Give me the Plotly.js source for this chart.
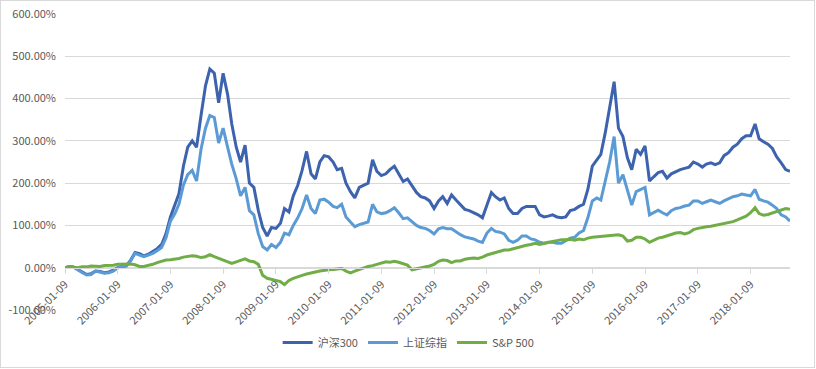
<!DOCTYPE html>
<html><head><meta charset="utf-8">
<script src="https://cdn.plot.ly/plotly-3.0.1.min.js"></script>
<style>
html,body{margin:0;padding:0;background:#fff;}
#chart{position:absolute;left:0;top:0;width:816px;height:369px;}
#frame{position:absolute;left:0;top:0;width:813px;height:366px;border:1px solid #d9d9d9;pointer-events:none;}
</style>
</head><body>
<div id="chart"></div><div id="frame"></div>
<script>
// monthly observations, 2005-01-09 .. 2018-10-09
const startYear = 2005, endYear = 2018, endMonth = 10;
const dates = [];
for (let y = startYear; y <= endYear; y++) {
  for (let m = 1; m <= 12; m++) {
    if (y === endYear && m > endMonth) break;
    dates.push(y + '-' + String(m).padStart(2, '0') + '-09');
  }
}
const seriesNames = ['沪深300', '上证综指', 'S&P 500'];
const hs300 = [
  0,3,2,-5,-10,-16,-14,-8,-9,-12,-10,-6,
  0,3,5,18,36,33,28,32,38,45,55,80,
  120,150,175,240,285,300,285,360,430,470,460,390,
  460,410,340,285,250,290,200,190,135,95,75,95,
  93,105,140,132,170,195,230,275,222,210,250,265,
  262,250,232,235,200,180,165,190,195,200,255,228,
  218,222,232,240,222,204,210,195,178,168,165,158,
  140,158,168,152,172,160,150,138,135,130,125,118,
  148,178,168,160,165,140,128,128,140,145,145,145,
  125,120,122,125,120,118,120,135,138,145,150,185,
  240,255,268,320,375,440,330,310,260,232,280,268,
  288,205,215,225,228,212,222,228,232,235,238,250,
  245,238,245,248,244,248,265,272,285,292,305,312,
  312,340,305,298,292,282,262,248,232,228
];
const szzs = [
  0,3,1,-6,-12,-17,-16,-8,-10,-13,-12,-8,
  0,2,4,16,34,30,26,30,34,40,48,70,
  110,128,150,195,220,230,205,280,330,360,355,295,
  330,285,245,210,170,190,135,125,80,50,42,55,
  48,60,82,78,100,118,140,172,140,128,160,162,
  155,145,142,150,120,108,97,102,106,108,150,132,
  128,130,135,142,130,116,118,110,100,95,93,88,
  80,92,95,92,92,85,78,73,70,68,63,60,
  82,93,86,84,80,65,60,65,75,75,68,66,
  60,58,60,60,58,58,64,70,72,82,88,118,
  158,165,160,210,250,310,200,220,180,148,180,185,
  190,125,130,136,130,125,135,140,142,146,148,158,
  158,152,156,160,156,152,158,164,168,170,174,172,
  170,185,162,158,155,148,140,125,120,110
];
const sp500 = [
  0,3,1,0,2,2,4,4,3,5,5,6,
  8,8,9,9,7,3,3,5,8,12,15,18,
  19,20,22,25,27,28,27,24,26,31,26,22,
  18,14,10,14,18,21,16,14,8,-18,-25,-28,
  -30,-33,-40,-30,-25,-21,-18,-15,-12,-10,-8,-6,
  -5,-4,-3,-2,-8,-12,-8,-4,0,3,5,8,
  12,14,13,15,13,10,6,-5,-3,0,2,4,
  8,15,18,17,12,16,16,20,22,23,22,25,
  30,33,36,40,42,42,45,47,50,53,55,58,
  55,58,60,62,64,66,66,67,65,68,66,70,
  72,73,74,75,76,77,78,75,63,65,72,72,
  68,60,65,70,72,76,78,82,83,80,83,90,
  93,96,97,98,100,102,104,107,109,113,117,122,
  130,142,128,124,126,130,132,136,140,138
];
const xTickVals = ['2005-01-09','2006-01-09','2007-01-09','2008-01-09','2009-01-09','2010-01-09','2011-01-09',
  '2012-01-09','2013-01-09','2014-01-09','2015-01-09','2016-01-09','2017-01-09','2018-01-09'];
const yTickVals = [-100,0,100,200,300,400,500,600];
const yTickText = ['-100.00%','0.00%','100.00%','200.00%','300.00%','400.00%','500.00%','600.00%'];

const colors = ['#3d63ae', '#5b9bd5', '#70ad47'];
const allSeries = [hs300, szzs, sp500];
const traces = allSeries.map((vals, i) => ({
  type: 'scatter', mode: 'lines', name: seriesNames[i], x: dates, y: vals,
  line: {color: colors[i], width: 3}
}));

const fontFam = '"Noto Sans CJK SC", "Noto Sans", sans-serif';
const layout = {
  width: 816, height: 369,
  margin: {l: 65, r: 26, t: 14, b: 53},
  paper_bgcolor: '#fff', plot_bgcolor: '#fff',
  font: {family: fontFam, size: 11, color: '#595959'},
  showlegend: true,
  legend: {orientation: 'h', x: 0.474, xanchor: 'center', y: -0.11, yanchor: 'middle',
    font: {family: fontFam, size: 11, color: '#595959'}, itemwidth: 30, tracegroupgap: 0},
  xaxis: {
    type: 'date', range: ['2005-01-09', '2018-10-09'],
    tickvals: xTickVals, ticktext: xTickVals, tickangle: -45,
    anchor: 'free', position: 1/7,
    showgrid: false, showline: true, linecolor: '#d9d9d9', linewidth: 1,
    ticks: 'outside', ticklen: 5, tickcolor: '#d9d9d9',
    tickfont: {family: fontFam, size: 11, color: '#595959'},
    zeroline: false
  },
  yaxis: {
    range: [-100, 600], tickmode: 'array', tickvals: yTickVals, ticktext: yTickText,
    showgrid: true, gridcolor: '#d9d9d9', gridwidth: 1,
    zeroline: false, showline: false, ticks: '',
    ticklabelstandoff: 8,
    tickfont: {family: fontFam, size: 11, color: '#595959'}
  }
};
Plotly.newPlot('chart', traces, layout, {displayModeBar: false, staticPlot: true});
</script>
</body></html>
